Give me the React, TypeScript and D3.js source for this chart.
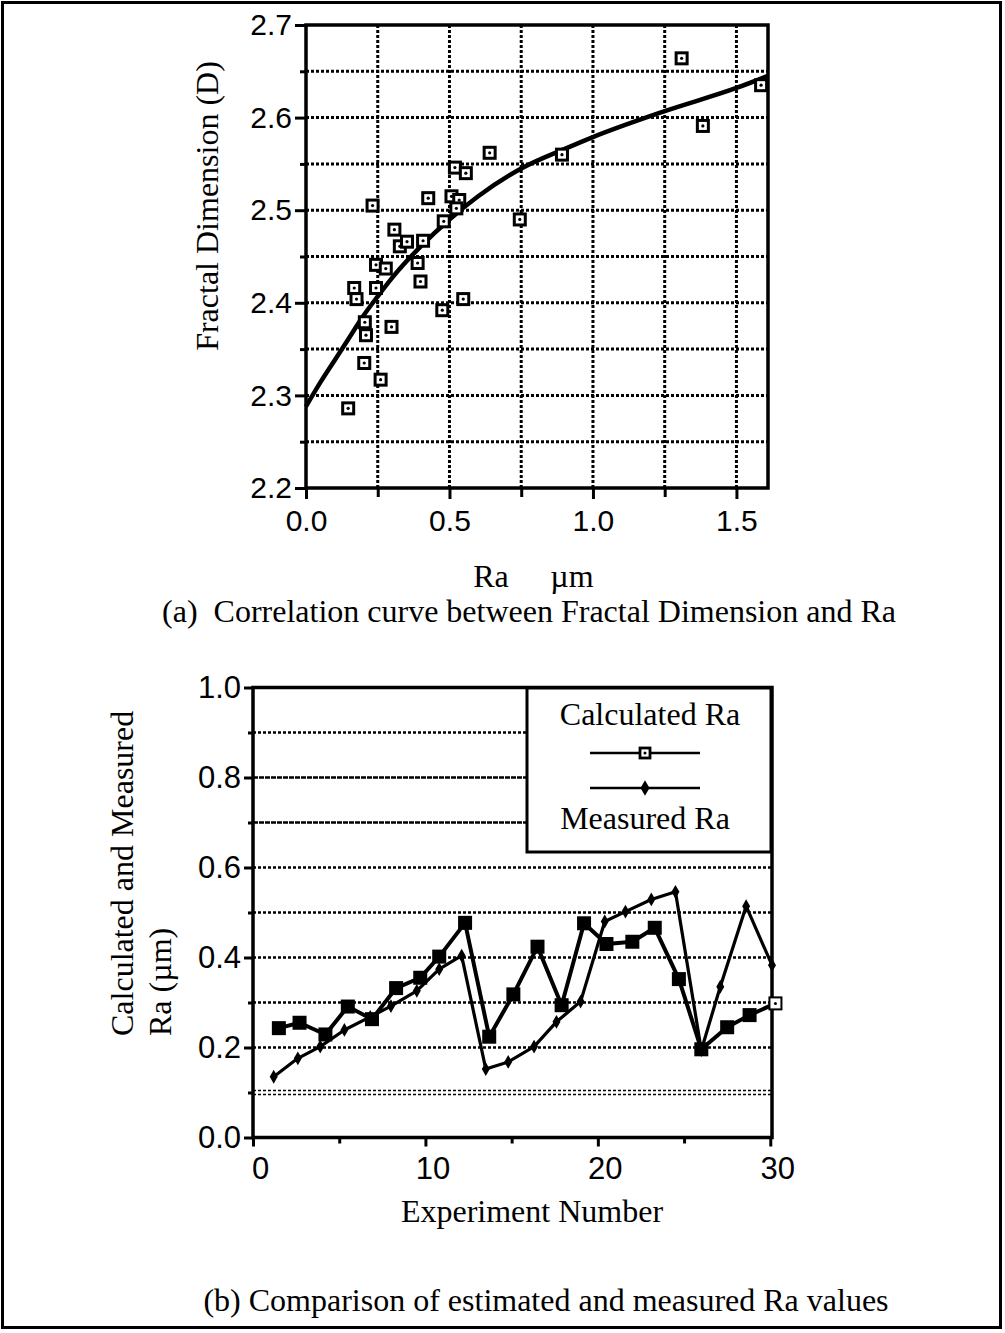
import * as d3 from 'd3';
import React, { useEffect, useRef } from 'react';

// (a) measured points: Ra (um) vs fractal dimension D
const pointRa = [0.147, 0.168, 0.176, 0.203, 0.205, 0.209, 0.232, 0.244, 0.244, 0.260, 0.278, 0.298, 0.308, 0.327, 0.352, 0.408, 0.389, 0.399, 0.426, 0.475, 0.480, 0.507, 0.534, 0.524, 0.519, 0.548, 0.557, 0.640, 0.745, 0.892, 1.309, 1.383, 1.586];
const pointD = [2.286, 2.416, 2.404, 2.335, 2.379, 2.365, 2.505, 2.441, 2.416, 2.317, 2.437, 2.374, 2.479, 2.461, 2.466, 2.467, 2.443, 2.423, 2.513, 2.392, 2.488, 2.515, 2.511, 2.502, 2.546, 2.404, 2.540, 2.562, 2.490, 2.560, 2.664, 2.591, 2.635];

// fitted correlation curve
const curveRa = [0, 0.05, 0.1, 0.15, 0.2, 0.25, 0.3, 0.4, 0.5, 0.6, 0.75, 0.9, 1.0, 1.25, 1.5, 1.61];
const curveD = [2.288, 2.314, 2.338, 2.362, 2.386, 2.407, 2.427, 2.461, 2.490, 2.515, 2.545, 2.566, 2.579, 2.607, 2.632, 2.645];

const raTicks = [0, 0.5, 1.0, 1.5];
const raMinor = [0.25, 0.75, 1.25];
const dTicks = [2.2, 2.3, 2.4, 2.5, 2.6, 2.7];
const dMinor = [2.25, 2.35, 2.45, 2.55, 2.65];

// (b) calculated vs measured Ra per experiment
const calcExp = [1.5, 2.7, 4.2, 5.5, 6.9, 8.3, 9.7, 10.8, 12.3, 13.7, 15.1, 16.5, 17.9, 19.2, 20.5, 22.0, 23.3, 24.7, 26.0, 27.5, 28.8, 30.3];
const calcRa = [0.243, 0.255, 0.229, 0.291, 0.263, 0.332, 0.355, 0.402, 0.477, 0.224, 0.318, 0.424, 0.294, 0.476, 0.430, 0.435, 0.466, 0.352, 0.196, 0.245, 0.272, 0.298];
const measExp = [1.2, 2.6, 3.9, 5.3, 6.8, 8.0, 9.5, 10.8, 12.1, 13.5, 14.8, 16.3, 17.6, 19.0, 20.4, 21.6, 23.1, 24.5, 26.0, 27.1, 28.6, 30.1];
const measRa = [0.135, 0.176, 0.202, 0.239, 0.268, 0.292, 0.326, 0.374, 0.404, 0.152, 0.168, 0.202, 0.257, 0.302, 0.480, 0.502, 0.529, 0.546, 0.194, 0.335, 0.514, 0.383];

const expTicks = [0, 10, 20, 30];
const expMinor = [5, 15, 25];
const raBTicks = [0, 0.2, 0.4, 0.6, 0.8, 1.0];
const raBMinor = [0.1, 0.3, 0.5, 0.7, 0.9];

const SERIF = '"Liberation Serif", "Times New Roman", serif';
const SANS = '"Liberation Sans", Arial, sans-serif';

const App = () => {
  const ref = useRef<SVGSVGElement>(null);

  useEffect(() => {
    const svg = d3.select(ref.current);
    svg.selectAll('*').remove();

    // outer border
    svg.append('rect')
      .attr('x', 2.5).attr('y', 2.5).attr('width', 998).attr('height', 1325)
      .attr('fill', 'none').attr('stroke', '#000').attr('stroke-width', 3);

    const styleAxis = (g, size) => {
      g.selectAll('.tick line').attr('stroke', '#000').attr('stroke-width', 3);
      g.selectAll('.tick text').attr('font-family', SANS).attr('font-size', size).attr('fill', '#000');
      g.select('.domain').remove();
    };

    // ---------- (a) ----------
    const x = d3.scaleLinear().domain([0, 1.61]).range([306, 768]);
    const y = d3.scaleLinear().domain([2.2, 2.7]).range([488, 25]);
    const a = svg.append('g');

    a.selectAll('.vgrid')
      .data(raMinor.concat(raTicks.slice(1)))
      .join('line')
      .attr('x1', d => x(d)).attr('x2', d => x(d))
      .attr('y1', y(2.7)).attr('y2', y(2.2))
      .attr('stroke', '#000').attr('stroke-width', 3).attr('stroke-dasharray', '3,2');

    a.selectAll('.hgrid')
      .data(dMinor.concat(dTicks.slice(1, -1)))
      .join('line')
      .attr('x1', x(0)).attr('x2', x(1.61))
      .attr('y1', d => y(d)).attr('y2', d => y(d))
      .attr('stroke', '#000').attr('stroke-width', 3).attr('stroke-dasharray', '3,2');

    a.append('rect')
      .attr('x', x(0)).attr('y', y(2.7))
      .attr('width', x(1.61) - x(0)).attr('height', y(2.2) - y(2.7))
      .attr('fill', 'none').attr('stroke', '#000').attr('stroke-width', 3.5);

    a.append('g').attr('transform', `translate(${x(0)},0)`)
      .call(d3.axisLeft(y).tickValues(dTicks).tickSize(11).tickPadding(3).tickFormat(d3.format('.1f')))
      .call(g => styleAxis(g, 30));
    a.append('g').attr('transform', `translate(${x(0)},0)`)
      .call(d3.axisLeft(y).tickValues(dMinor).tickSize(6).tickFormat(() => ''))
      .call(g => styleAxis(g, 30));
    a.append('g').attr('transform', `translate(0,${y(2.2)})`)
      .call(d3.axisBottom(x).tickValues(raTicks).tickSize(11).tickPadding(11).tickFormat(d3.format('.1f')))
      .call(g => styleAxis(g, 30));
    a.append('g').attr('transform', `translate(0,${y(2.2)})`)
      .call(d3.axisBottom(x).tickValues(raMinor).tickSize(9).tickFormat(() => ''))
      .call(g => styleAxis(g, 30));

    const curve = d3.line<number>()
      .x(d => x(curveRa[d]))
      .y(d => y(curveD[d]))
      .curve(d3.curveMonotoneX);
    a.append('path')
      .attr('d', curve(d3.range(curveRa.length)))
      .attr('fill', 'none').attr('stroke', '#000').attr('stroke-width', 4.5);

    const pts = a.selectAll('.pt').data(d3.range(pointRa.length)).join('g')
      .attr('transform', i => `translate(${x(pointRa[i])},${y(pointD[i])})`);
    pts.append('rect').attr('x', -5.5).attr('y', -5.5).attr('width', 11).attr('height', 11)
      .attr('fill', '#fff').attr('stroke', '#000').attr('stroke-width', 3);
    pts.append('circle').attr('r', 1.6).attr('fill', '#000');

    a.append('text').attr('transform', 'translate(218,206) rotate(-90)')
      .attr('text-anchor', 'middle').attr('font-family', SERIF).attr('font-size', 32)
      .text('Fractal Dimension (D)');
    a.append('text').attr('x', 491).attr('y', 587).attr('text-anchor', 'middle')
      .attr('font-family', SERIF).attr('font-size', 32).text('Ra');
    a.append('text').attr('x', 572).attr('y', 587).attr('text-anchor', 'middle')
      .attr('font-family', SERIF).attr('font-size', 32).text('µm');
    a.append('text').attr('x', 529).attr('y', 622).attr('text-anchor', 'middle')
      .attr('font-family', SERIF).attr('font-size', 32).attr('xml:space', 'preserve')
      .text('(a)  Correlation curve between Fractal Dimension and Ra');

    // ---------- (b) ----------
    const xb = d3.scaleLinear().domain([0, 30.1]).range([253, 772]);
    const yb = d3.scaleLinear().domain([0, 1]).range([1137.5, 687.5]);
    const b = svg.append('g');

    b.selectAll('.hgrid')
      .data(raBMinor.concat(raBTicks.slice(1, -1)))
      .join('line')
      .attr('x1', xb(0)).attr('x2', xb(30.1))
      .attr('y1', d => yb(d) - (d === 0.1 ? 2 : 0)).attr('y2', d => yb(d) - (d === 0.1 ? 2 : 0))
      .attr('stroke', '#000').attr('stroke-width', d => (d === 0.1 ? 1.5 : 2.5))
      .attr('stroke-dasharray', d => (d === 0.7 || d === 0.8 ? '5,1' : '3,2'));
    b.append('line')
      .attr('x1', xb(0)).attr('x2', xb(30.1))
      .attr('y1', yb(0.1) + 2).attr('y2', yb(0.1) + 2)
      .attr('stroke', '#000').attr('stroke-width', 1.5).attr('stroke-dasharray', '3,2');

    b.append('rect')
      .attr('x', xb(0)).attr('y', yb(1))
      .attr('width', xb(30.1) - xb(0)).attr('height', yb(0) - yb(1))
      .attr('fill', 'none').attr('stroke', '#000').attr('stroke-width', 3.5);

    b.append('g').attr('transform', `translate(${xb(0)},0)`)
      .call(d3.axisLeft(yb).tickValues(raBTicks).tickSize(9).tickPadding(3).tickFormat(d3.format('.1f')))
      .call(g => styleAxis(g, 31));
    b.append('g').attr('transform', `translate(${xb(0)},0)`)
      .call(d3.axisLeft(yb).tickValues(raBMinor).tickSize(5).tickFormat(() => ''))
      .call(g => styleAxis(g, 31));
    b.append('g').attr('transform', `translate(0,${yb(0)})`)
      .call(d3.axisBottom(xb).tickValues(expTicks).tickSize(9).tickPadding(10).tickFormat(d3.format('d')))
      .call(g => styleAxis(g, 31))
      .call(g => g.selectAll('.tick text').attr('dx', 7));
    b.append('g').attr('transform', `translate(0,${yb(0)})`)
      .call(d3.axisBottom(xb).tickValues(expMinor).tickSize(6).tickFormat(() => ''))
      .call(g => styleAxis(g, 31));

    // legend
    const lg = b.append('g');
    lg.append('rect').attr('x', 527).attr('y', 688).attr('width', 244).attr('height', 164)
      .attr('fill', '#fff').attr('stroke', '#000').attr('stroke-width', 3);
    lg.append('text').attr('x', 650).attr('y', 725).attr('text-anchor', 'middle')
      .attr('font-family', SERIF).attr('font-size', 32).text('Calculated Ra');
    lg.append('line').attr('x1', 590).attr('x2', 700).attr('y1', 753).attr('y2', 753)
      .attr('stroke', '#000').attr('stroke-width', 2.5);
    lg.append('rect').attr('x', 640).attr('y', 748).attr('width', 10).attr('height', 10)
      .attr('fill', '#fff').attr('stroke', '#000').attr('stroke-width', 2.8);
    lg.append('circle').attr('cx', 645).attr('cy', 753).attr('r', 1.5).attr('fill', '#000');
    lg.append('line').attr('x1', 590).attr('x2', 700).attr('y1', 788).attr('y2', 788)
      .attr('stroke', '#000').attr('stroke-width', 2.5);
    lg.append('path').attr('transform', 'translate(645,788)')
      .attr('d', d3.symbol(d3.symbolDiamond, 70)());
    lg.append('text').attr('x', 645).attr('y', 829).attr('text-anchor', 'middle')
      .attr('font-family', SERIF).attr('font-size', 32).text('Measured Ra');

    const line = d3.line<number>().x(d => xb(d[0])).y(d => yb(d[1]));
    const calcPts = d3.range(calcExp.length).map(i => [calcExp[i], calcRa[i]]);
    const measPts = d3.range(measExp.length).map(i => [measExp[i], measRa[i]]);

    b.append('path').attr('d', line(measPts as any))
      .attr('fill', 'none').attr('stroke', '#000').attr('stroke-width', 3.2).attr('stroke-linejoin', 'round');
    b.append('path').attr('d', line(calcPts as any))
      .attr('fill', 'none').attr('stroke', '#000').attr('stroke-width', 4).attr('stroke-linejoin', 'round');

    b.selectAll('.meas').data(measPts).join('path')
      .attr('transform', d => `translate(${xb(d[0])},${yb(d[1])})`)
      .attr('d', d3.symbol(d3.symbolDiamond, 55)());

    const last = calcPts.length - 1;
    b.selectAll('.calc').data(calcPts).join('rect')
      .attr('x', d => xb(d[0]) - 6).attr('y', d => yb(d[1]) - 6)
      .attr('width', 12).attr('height', 12)
      .attr('fill', (d, i) => (i === last ? '#fff' : '#000'))
      .attr('stroke', '#000').attr('stroke-width', 2);
    b.append('circle').attr('cx', xb(calcExp[last])).attr('cy', yb(calcRa[last]))
      .attr('r', 1.5).attr('fill', '#000');

    b.append('text').attr('transform', 'translate(133,1036) rotate(-90)')
      .attr('font-family', SERIF).attr('font-size', 32).text('Calculated and Measured');
    b.append('text').attr('transform', 'translate(171,1036) rotate(-90)')
      .attr('font-family', SERIF).attr('font-size', 32).text('Ra (µm)');
    b.append('text').attr('x', 532).attr('y', 1222).attr('text-anchor', 'middle')
      .attr('font-family', SERIF).attr('font-size', 32).text('Experiment Number');
    b.append('text').attr('x', 546).attr('y', 1311).attr('text-anchor', 'middle')
      .attr('font-family', SERIF).attr('font-size', 32).text('(b) Comparison of estimated and measured Ra values');
  }, []);

  return (
    <svg ref={ref} width={1005} height={1333}
      style={{ position: 'absolute', left: 0, top: 0, background: '#fff' }} />
  );
};

export default App;
